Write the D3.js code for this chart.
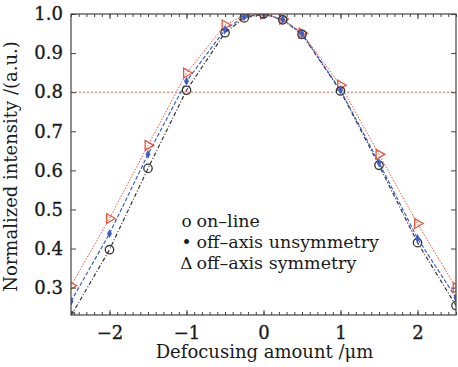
<!DOCTYPE html>
<html>
<head>
<meta charset="utf-8">
<script src="https://cdn.jsdelivr.net/npm/d3@7"></script>
<style>
  body { margin: 0; background: #fff; }
  text { font-family: "DejaVu Serif", "Liberation Serif", serif; fill: #1a1a1a; }
</style>
</head>
<body>
<div id="chart"></div>
<script>
var defocus = [-2.5, -2, -1.5, -1, -0.5, -0.25, 0, 0.25, 0.5, 1, 1.5, 2, 2.5];
var onLine = [0.228, 0.397, 0.605, 0.805, 0.952, 0.99, 1.0, 0.985, 0.948, 0.803, 0.613, 0.415, 0.254];
var offUnsym = [0.265, 0.438, 0.641, 0.828, 0.96, 0.993, 1.0, 0.986, 0.95, 0.805, 0.62, 0.426, 0.274];
var offSym = [0.305, 0.477, 0.664, 0.849, 0.972, 0.996, 1.0, 0.987, 0.951, 0.818, 0.641, 0.464, 0.30];
var xTicks = [-2, -1, 0, 1, 2];
var yTicks = [0.3, 0.4, 0.5, 0.6, 0.7, 0.8, 0.9, 1.0];
var legendLabels = ["on\u2013line", "off\u2013axis unsymmetry", "off\u2013axis symmetry"];

var width = 458, height = 367;
var margin = {top: 14, right: 2, bottom: 52, left: 71};
var w = width - margin.left - margin.right;
var h = height - margin.top - margin.bottom;

var svg = d3.select("#chart").append("svg")
    .attr("width", width)
    .attr("height", height)

var g = svg.append("g")
    .attr("transform", "translate(" + margin.left + "," + margin.top + ")")

var x = d3.scaleLinear().domain([-2.5, 2.5]).range([0, w]);
var y = d3.scaleLinear().domain([0.23, 1.0]).range([h, 0]);

var red = "#e8553e", blue = "#3d5fc8", black = "#333";

g.append("clipPath").attr("id", "clip")
  .append("rect").attr("width", w).attr("height", h)

// 0.8 threshold
g.append("line")
    .attr("x1", 0).attr("x2", w)
    .attr("y1", y(0.8)).attr("y2", y(0.8))
    .attr("stroke", red).attr("stroke-width", 1)
    .attr("stroke-dasharray", "2,2")

var line = d3.line()
    .x(function(d) { return x(d[0]); })
    .y(function(d) { return y(d[1]); })

function pts(vals) { return defocus.map(function(d, i) { return [d, vals[i]]; }); }

var plot = g.append("g").attr("clip-path", "url(#clip)")

plot.append("path").datum(pts(onLine))
    .attr("d", line).attr("fill", "none")
    .attr("stroke", black).attr("stroke-width", 1.2)
    .attr("stroke-dasharray", "4,2,1,2")
plot.append("path").datum(pts(offUnsym))
    .attr("d", line).attr("fill", "none")
    .attr("stroke", blue).attr("stroke-width", 1.2)
    .attr("stroke-dasharray", "4,2")
plot.append("path").datum(pts(offSym))
    .attr("d", line).attr("fill", "none")
    .attr("stroke", red).attr("stroke-width", 1)
    .attr("stroke-dasharray", "1.5,1.5")

// markers
var tri = d3.symbol().type(d3.symbolTriangle).size(42);
plot.selectAll(".tri").data(pts(offSym)).enter().append("path")
    .attr("class", "tri")
    .attr("d", tri)
    .attr("transform", function(d) { return "translate(" + x(d[0]) + "," + y(d[1]) + ") rotate(90)"; })
    .attr("fill", "none").attr("stroke", red).attr("stroke-width", 1.3)

plot.selectAll(".circ").data(pts(onLine)).enter().append("circle")
    .attr("class", "circ")
    .attr("cx", function(d) { return x(d[0]); })
    .attr("cy", function(d) { return y(d[1]); })
    .attr("r", 4.2)
    .attr("fill", "none").attr("stroke", black).attr("stroke-width", 1.3)

var dia = d3.symbol().type(d3.symbolDiamond).size(22);
plot.selectAll(".dia").data(pts(offUnsym)).enter().append("path")
    .attr("class", "dia")
    .attr("d", dia)
    .attr("transform", function(d) { return "translate(" + x(d[0]) + "," + y(d[1]) + ")"; })
    .attr("fill", blue)

// inward ticks on all four sides
var xMinor = d3.range(-25, 26).map(function(d) { return d / 10; });
function plain(a) { a.select(".domain").remove(); a.selectAll("line").attr("stroke", "#444"); }
function labels(a) {
    plain(a);
    a.selectAll("text").attr("font-size", 18).attr("font-family", "DejaVu Serif")
        .attr("fill", "#1a1a1a").attr("stroke", "#1a1a1a").attr("stroke-width", 0.35);
}

g.append("g").attr("transform", "translate(0," + h + ")")
    .call(d3.axisBottom(x).tickValues(xMinor).tickSize(-3).tickFormat("")).call(plain)
g.append("g")
    .call(d3.axisTop(x).tickValues(xMinor).tickSize(-3).tickFormat("")).call(plain)

g.append("g").attr("transform", "translate(0," + h + ")")
    .call(d3.axisBottom(x).tickValues(xTicks).tickSize(-5).tickPadding(11)
        .tickFormat(function(d) { return d < 0 ? "\u2212" + (-d) : d; }))
    .call(labels)
g.append("g")
    .call(d3.axisTop(x).tickValues(xTicks).tickSize(-5).tickFormat("")).call(plain)

g.append("g")
    .call(d3.axisLeft(y).tickValues(yTicks).tickSize(-5).tickPadding(8).tickFormat(d3.format(".1f")))
    .call(labels)
g.append("g").attr("transform", "translate(" + w + ",0)")
    .call(d3.axisRight(y).tickValues(yTicks).tickSize(-5).tickFormat("")).call(plain)

g.append("rect")
    .attr("width", w).attr("height", h)
    .attr("fill", "none").attr("stroke", "#444").attr("stroke-width", 1.2)

// axis titles
svg.append("text")
    .attr("x", margin.left + w / 2 + 1).attr("y", height - 9)
    .attr("text-anchor", "middle")
    .attr("font-size", 18)
    .text("Defocusing amount /\u03bcm")

svg.append("text")
    .attr("transform", "translate(17," + (margin.top + h / 2 + 2) + ") rotate(-90)")
    .attr("text-anchor", "middle")
    .attr("font-size", 18)
    .text("Normalized intensity /(a.u.)")

// legend
var legSyms = ["\u03bf", "\u2022", "\u0394"];
var leg = g.append("g").attr("transform", "translate(" + (x(-1.0)) + "," + (y(0.46) + 2) + ")")
leg.selectAll(".ls").data(legendLabels).enter().append("text")
    .attr("x", 0).attr("y", function(d, i) { return i * 21; })
    .attr("font-size", 17)
    .attr("text-anchor", "middle")
    .text(function(d, i) { return legSyms[i]; })
leg.selectAll(".lt").data(legendLabels).enter().append("text")
    .attr("x", 10).attr("y", function(d, i) { return i * 21; })
    .attr("font-size", 17.5)
    .text(function(d) { return d; })
</script>
</body>
</html>
